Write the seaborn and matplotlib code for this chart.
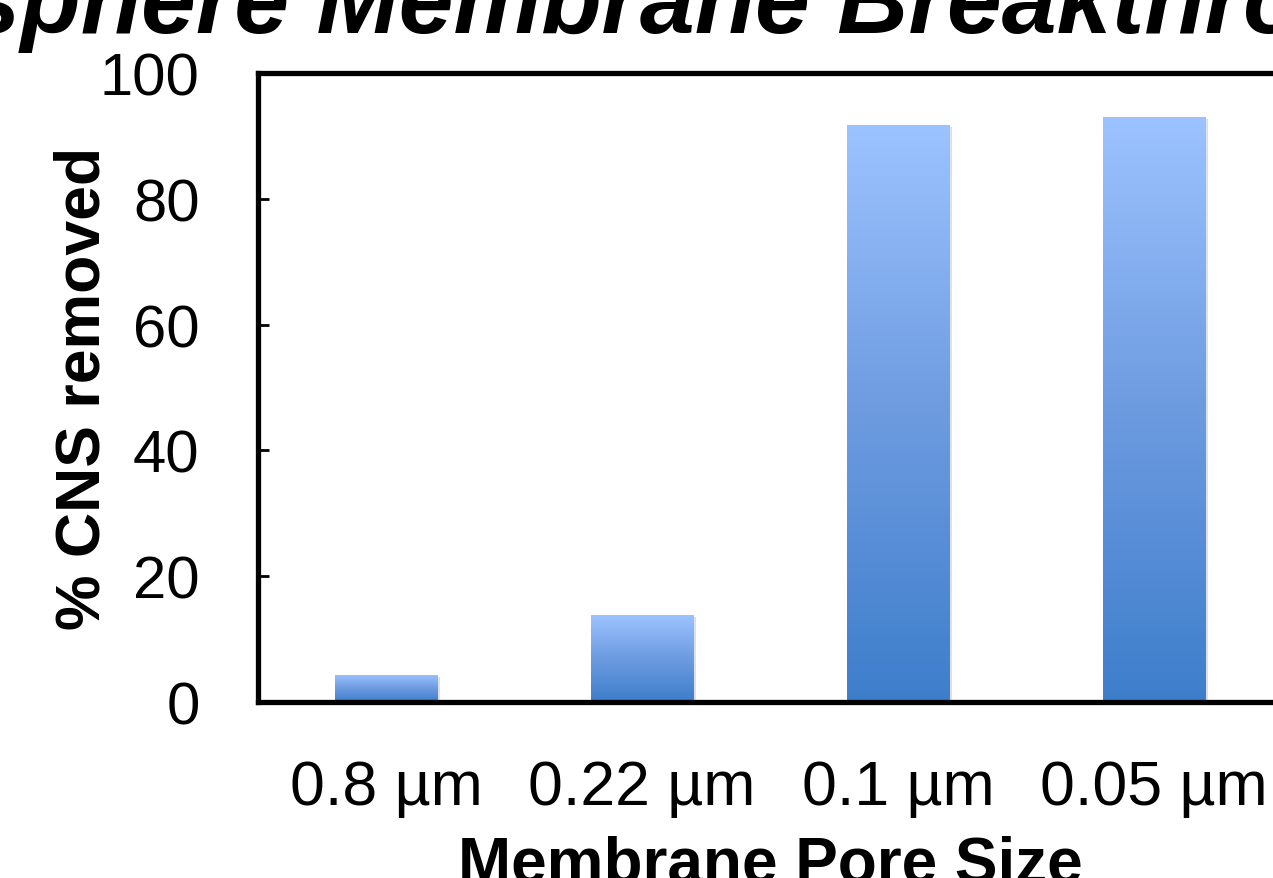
import numpy as np
import pandas as pd
import matplotlib
matplotlib.use("Agg")
import matplotlib.pyplot as plt
import matplotlib.patheffects as pe
from matplotlib.colors import LinearSegmentedColormap
import seaborn as sns

# Data
pore_sizes = ["0.8 µm", "0.22 µm", "0.1 µm", "0.05 µm"]
cns_removed = [4.3, 13.8, 91.7, 93.0]
y_ticks = [0, 20, 40, 60, 80, 100]

title_text = "Nanosphere Membrane Breakthrough"
x_label = "Membrane Pore Size"
y_label = "% CNS removed"

sns.set_theme(style="white")
plt.rcParams["font.family"] = ["Liberation Sans", "DejaVu Sans"]

fig = plt.figure(figsize=(12.73, 8.79), dpi=100)
fig.patch.set_facecolor("white")
ax = fig.add_axes([0.2027, 0.2002, 0.8044, 0.7156])

df = pd.DataFrame({"pore": pore_sizes, "removed": cns_removed})
sns.barplot(data=df, x="pore", y="removed", width=0.4, color="#6f9fe6",
            ax=ax, zorder=2)

# vertical blue gradient inside every bar, light at the top, darker at the base
grad_cmap = LinearSegmentedColormap.from_list(
    "bar_grad", ["#3d7ecb", "#6d9be0", "#9cc3ff"])
grad = np.linspace(0, 1, 256).reshape(-1, 1)
for patch in ax.patches:
    x0 = patch.get_x()
    w = patch.get_width()
    h = patch.get_height()
    patch.set_edgecolor("none")
    patch.set_path_effects([
        pe.SimplePatchShadow(offset=(2.0, -1.5), shadow_rgbFace="#9a9a9a",
                             alpha=0.3),
        pe.Normal(),
    ])
    im = ax.imshow(grad, extent=[x0, x0 + w, 0, h], origin="lower",
                   cmap=grad_cmap, aspect="auto", zorder=3,
                   interpolation="bicubic")
    im.set_clip_path(patch)

ax.set_xlim(-0.5, 3.5)
ax.set_ylim(0, 100)
ax.set_yticks(y_ticks)
ax.set_yticklabels([str(v) for v in y_ticks])

# frame: heavy black spines with a faint grey drop line
for side in ["left", "top", "bottom", "right"]:
    sp = ax.spines[side]
    sp.set_visible(True)
    sp.set_color("black")
    sp.set_linewidth(3.8)
    sp.set_zorder(5)
    sp.set_path_effects([
        pe.SimplePatchShadow(offset=(1.2, -1.2), shadow_rgbFace="#8c8c8c",
                             alpha=0.7),
        pe.Normal(),
    ])

ax.tick_params(axis="y", direction="in", length=8, width=2, color="black",
               left=True, pad=42, labelsize=43, labelcolor="black")
ax.tick_params(axis="x", length=0, pad=40, labelsize=45, labelcolor="black")

ax.set_xlabel(x_label, fontsize=46, fontweight="bold", color="black")
ax.set_ylabel(y_label, fontsize=45, fontweight="bold", color="black")
ax.xaxis.set_label_coords(0.5, -0.21)
ax.yaxis.set_label_coords(-0.142, 0.5)

fig.text(-0.221, 1 - 33 / 879, title_text, ha="left", va="baseline",
         fontsize=71, fontweight="bold", fontstyle="italic", color="black")

fig.savefig("out.png", dpi=100, facecolor="white")
